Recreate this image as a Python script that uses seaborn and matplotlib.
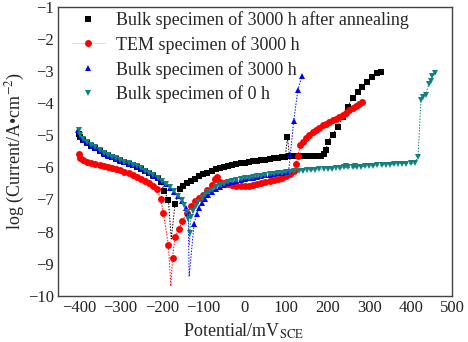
import matplotlib
matplotlib.use("Agg")
import matplotlib.pyplot as plt
import seaborn as sns
import pandas as pd

# ---------------- data ----------------
labels = ["Bulk specimen of 3000 h after annealing",
          "TEM specimen of 3000 h",
          "Bulk specimen of 3000 h",
          "Bulk specimen of 0 h"]

ann_x = [-400, -396, -390, -380, -370, -360, -350, -340, -330, -320, -310, -300, -290, -280,
         -270, -260, -250, -240, -230, -220, -210, -202, -194, -184, -177, -168, -156, -148,
         -140, -130, -120, -110, -100, -90, -80, -70, -60, -50, -40, -30, -20, -10, 0, 10,
         20, 30, 40, 50, 60, 70, 80, 90, 98, 103, 108, 115, 125, 135, 145, 155, 165, 175,
         185, 192, 196, 200, 212, 224, 236, 248, 260, 272, 284, 296, 308, 320, 328]
ann_y = [-4.95, -5.05, -5.15, -5.25, -5.33, -5.41, -5.49, -5.56, -5.62, -5.68, -5.73, -5.78,
         -5.83, -5.88, -5.93, -5.98, -6.04, -6.10, -6.17, -6.25, -6.34, -6.45, -6.75, -7.01,
         -8.23, -7.14, -6.68, -6.58, -6.50, -6.42, -6.35, -6.28, -6.22, -6.16, -6.11, -6.06,
         -6.02, -5.98, -5.95, -5.92, -5.89, -5.87, -5.86, -5.83, -5.81, -5.79, -5.77, -5.76,
         -5.74, -5.72, -5.70, -5.69, -5.68, -5.06, -5.65, -5.65, -5.65, -5.65, -5.65, -5.65,
         -5.65, -5.64, -5.63, -5.58, -5.46, -5.20, -4.99, -4.73, -4.42, -4.11, -3.85, -3.64,
         -3.49, -3.33, -3.18, -3.07, -3.02]

tem_x = [-400, -396, -390, -380, -370, -360, -350, -340, -330, -320, -310, -300, -290, -280,
         -270, -260, -250, -240, -230, -220, -212, -202, -196, -184, -178, -174, -168, -158,
         -150, -140, -130, -120, -110, -100, -90, -80, -72, -66, -60, -50, -40, -30, -20, -10,
         0, 10, 20, 30, 40, 50, 60, 70, 80, 90, 100, 110, 118, 124, 128, 134, 140, 148, 156,
         164, 172, 180, 188, 196, 204, 212, 220, 228, 236, 244, 252, 260, 268, 276, 284]
tem_y = [-5.58, -5.70, -5.78, -5.84, -5.87, -5.89, -5.92, -5.95, -5.98, -6.02, -6.05, -6.09,
         -6.13, -6.18, -6.24, -6.30, -6.36, -6.42, -6.50, -6.58, -6.68, -7.00, -7.41, -8.41,
         -9.70, -8.83, -8.17, -7.91, -7.66, -7.42, -7.20, -7.05, -6.95, -6.85, -6.70, -6.55,
         -6.36, -6.30, -6.45, -6.50, -6.53, -6.56, -6.58, -6.59, -6.58, -6.57, -6.55, -6.52,
         -6.50, -6.47, -6.43, -6.40, -6.36, -6.32, -6.27, -6.20, -6.10, -5.90, -5.65, -5.30,
         -5.20, -5.08, -4.98, -4.90, -4.83, -4.76, -4.69, -4.64, -4.58, -4.53, -4.48, -4.44,
         -4.38, -4.30, -4.22, -4.16, -4.10, -4.02, -3.95]

b3_x = [-402, -396, -390, -380, -370, -360, -350, -340, -330, -320, -310, -300, -290, -280,
        -270, -260, -250, -240, -230, -220, -210, -200, -190, -180, -170, -160, -150, -142,
        -136, -134, -122, -116, -110, -104, -96, -88, -80, -70, -60, -50, -40, -30, -20, -10,
        0, 10, 20, 30, 40, 50, 60, 70, 80, 90, 100, 106, 110, 118, 128, 138]
b3_y = [-4.85, -5.05, -5.15, -5.25, -5.33, -5.41, -5.49, -5.57, -5.63, -5.69, -5.74, -5.79,
        -5.84, -5.89, -5.94, -5.99, -6.05, -6.12, -6.19, -6.26, -6.34, -6.43, -6.53, -6.64,
        -6.76, -6.90, -7.06, -7.25, -7.43, -9.40, -7.76, -7.45, -7.25, -7.10, -6.98, -6.86,
        -6.77, -6.68, -6.60, -6.54, -6.49, -6.45, -6.42, -6.39, -6.36, -6.34, -6.32, -6.29,
        -6.27, -6.25, -6.23, -6.21, -6.19, -6.17, -6.15, -6.12, -5.60, -4.57, -3.60, -3.15]

b0_x = [-400, -396, -390, -380, -370, -360, -350, -340, -330, -320, -310, -300, -290, -280,
        -270, -260, -250, -240, -230, -220, -210, -200, -190, -180, -170, -160, -152, -146,
        -140, -136, -133, -133, -130, -124, -118, -112, -104, -96, -88, -80, -70, -60, -50,
        -40, -30, -20, -10, 0, 10, 20, 30, 40, 50, 60, 70, 80, 90, 100, 110, 120, 130, 140,
        150, 160, 170, 180, 190, 200, 210, 220, 230, 240, 245, 250, 260, 265, 270, 280, 290,
        300, 310, 320, 330, 340, 350, 360, 370, 380, 390, 400, 410, 418, 425, 430, 436, 444,
        448, 452, 458]
b0_y = [-4.85, -5.00, -5.12, -5.22, -5.30, -5.38, -5.47, -5.55, -5.61, -5.67, -5.72, -5.77,
        -5.82, -5.87, -5.92, -5.97, -6.03, -6.10, -6.17, -6.24, -6.32, -6.41, -6.51, -6.62,
        -6.74, -6.88, -7.02, -7.18, -7.38, -7.60, -8.05, -8.40, -7.55, -7.35, -7.20, -7.08,
        -6.95, -6.85, -6.76, -6.69, -6.62, -6.56, -6.51, -6.47, -6.43, -6.40, -6.37, -6.34,
        -6.32, -6.30, -6.28, -6.26, -6.24, -6.22, -6.20, -6.18, -6.16, -6.14, -6.13, -6.12,
        -6.11, -6.10, -6.09, -6.08, -6.07, -6.06, -6.05, -6.05, -6.04, -6.03, -6.02, -6.00,
        -5.95, -6.00, -6.00, -5.95, -5.98, -5.98, -5.97, -5.96, -5.95, -5.94, -5.93, -5.92,
        -5.91, -5.90, -5.89, -5.88, -5.88, -5.87, -5.86, -5.67, -3.90, -3.82, -3.75, -3.40,
        -3.30, -3.15, -3.05]

x_ticks = [-400, -300, -200, -100, 0, 100, 200, 300, 400, 500]
y_ticks = [-10, -9, -8, -7, -6, -5, -4, -3, -2, -1]

# ---------------- style ----------------
sns.set_theme(style="white")
plt.rcParams["font.family"] = ["Liberation Serif", "DejaVu Serif"]
plt.rcParams["mathtext.fontset"] = "stix"

fig = plt.figure(figsize=(4.68, 3.42), dpi=100)
ax = fig.add_axes([0.124, 0.135, 0.842, 0.845])

series = [
    (ann_x, ann_y, labels[0], "#000000", "s", [24]),
    (tem_x, tem_y, labels[1], "#ff0000", "o", [24]),
    (b3_x, b3_y, labels[2], "#0000ff", "^", [29]),
    (b0_x, b0_y, labels[3], "#138080", "v", [31]),
]

for xs, ys, lab, col, mk, nomark in series:
    df = pd.DataFrame({"x": xs, "y": ys})
    mev = [i for i in range(len(xs)) if i not in nomark]
    sns.lineplot(data=df, x="x", y="y", ax=ax, sort=False, estimator=None,
                 color=col, marker=mk, markersize=5.0, markeredgewidth=0,
                 linewidth=0.7, linestyle=(0, (1.5, 1.5)), markevery=mev,
                 label=lab)

ax.set_xlim(-450, 500)
ax.set_ylim(-10, -1)
ax.set_xticks(x_ticks)
ax.set_yticks(y_ticks)
ax.tick_params(direction="in", length=4, width=1, labelsize=12, colors="#222222",
               top=False, right=False, pad=3)
for s in ax.spines.values():
    s.set_color("#444444")
    s.set_linewidth(1.0)

ax.set_xlabel(r"Potential/mV$_{\mathrm{SCE}}$", fontsize=13, labelpad=3)
ax.xaxis.set_label_coords(0.47, -0.09)
ax.set_ylabel(r"log (Current/A•cm$^{-2}$)", fontsize=13, labelpad=2)
ax.yaxis.set_label_coords(-0.08, 0.5)

leg = ax.legend(loc="upper left", bbox_to_anchor=(0.036, 0.985), frameon=False,
                fontsize=13, handlelength=1.8, handletextpad=0.6, labelspacing=0.38,
                borderpad=0, borderaxespad=0)
for i, h in enumerate(leg.get_lines()):
    col = h.get_color()
    h.set_markerfacecolor(col)
    h.set_markeredgecolor(col)
    if i == 1:
        h.set_linestyle("-")
        h.set_linewidth(0.6)
        h.set_color("#ffc8c8")
    else:
        h.set_linestyle("none")

fig.savefig("out.png", dpi=100, facecolor="white")
